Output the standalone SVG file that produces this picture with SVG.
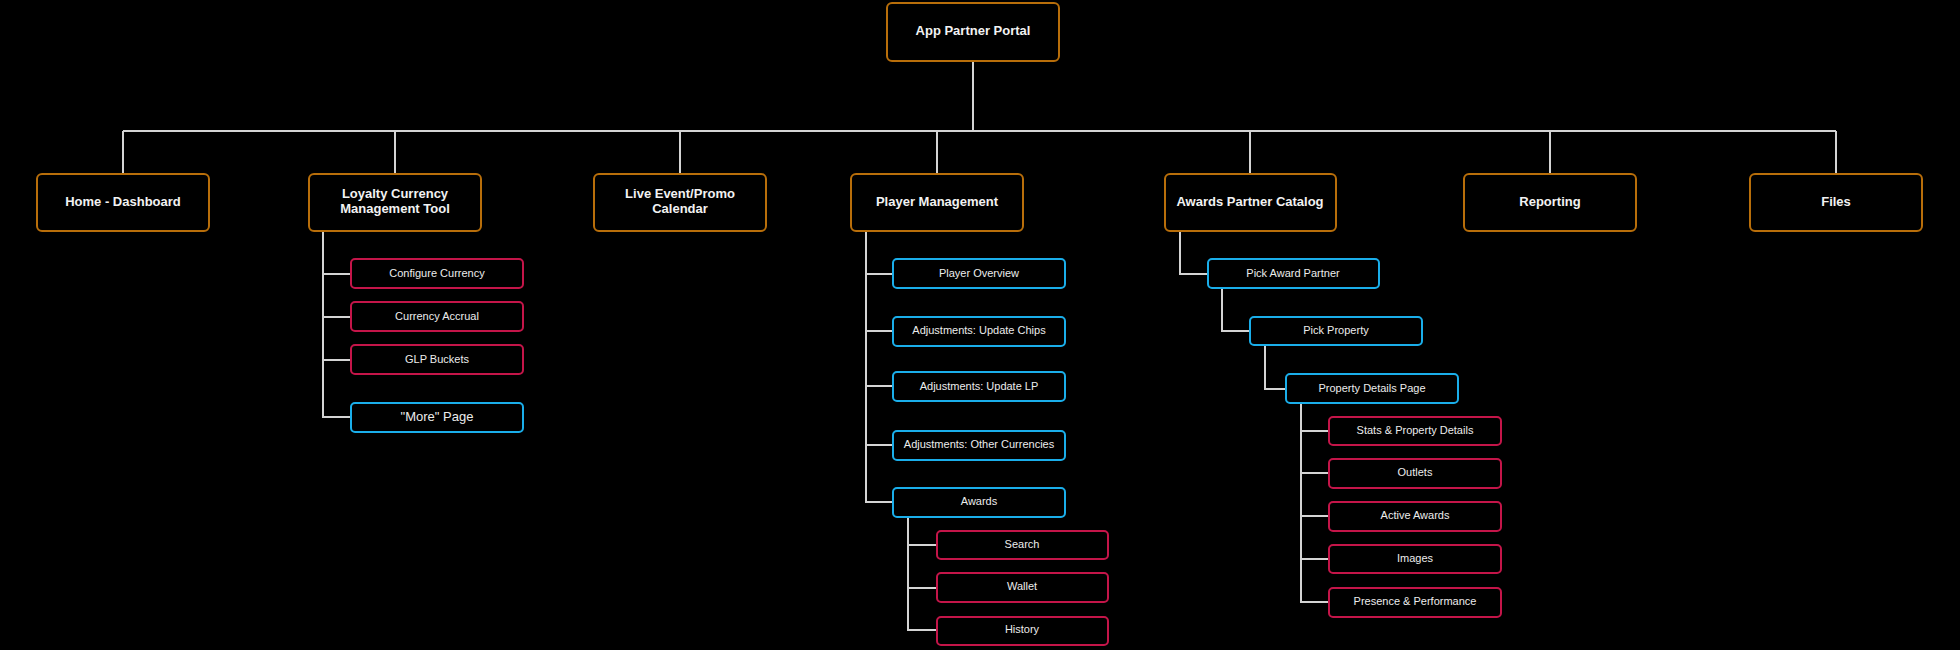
<svg xmlns="http://www.w3.org/2000/svg" width="1960" height="650" viewBox="0 0 1960 650">
<style>
.bg{fill:#000}
.o{fill:#000;stroke:#b86e0a;stroke-width:2}
.r{fill:#000;stroke:#c41549;stroke-width:2}
.b{fill:#000;stroke:#1aaeea;stroke-width:2}
.t1{font-family:"Liberation Sans",Arial,sans-serif;font-size:13px;font-weight:bold;fill:#f2f2f2;text-anchor:middle;dominant-baseline:central}
.t2{font-family:"Liberation Sans",Arial,sans-serif;font-size:11px;fill:#ececec;text-anchor:middle;dominant-baseline:central}
.t3{font-family:"Liberation Sans",Arial,sans-serif;font-size:13px;fill:#ececec;text-anchor:middle;dominant-baseline:central}
.c{fill:none;stroke:#d4d4d4;stroke-width:2}
</style>
<rect class="bg" x="0" y="0" width="1960" height="650"/>
<g id="connectors">
<path class="c" d="M973 61V131M123 131H1836M123 131V174M395 131V174M680 131V174M937 131V174M1250 131V174M1550 131V174M1836 131V174"/>
<path class="c" d="M323 231V417H351M323 274H351M323 317H351M323 360H351"/>
<path class="c" d="M866 231V502H893M866 274H893M866 331H893M866 386H893M866 445H893"/>
<path class="c" d="M908 517V630H937M908 545H937M908 588H937"/>
<path class="c" d="M1180 231V274H1208M1222 288V331H1250M1265 345V389H1286M1301 403V602H1329M1301 431H1329M1301 473H1329M1301 516H1329M1301 559H1329"/>
</g>
<g id="root"><rect class="o" x="887" y="3" width="172" height="58" rx="5"/><text class="t1" x="973" y="30">App Partner Portal</text></g>
<g id="home"><rect class="o" x="37" y="174" width="172" height="57" rx="5"/><text class="t1" x="123" y="201">Home - Dashboard</text></g>
<g id="loyalty"><rect class="o" x="309" y="174" width="172" height="57" rx="5"/><text class="t1" x="395" y="193.5">Loyalty Currency</text><text class="t1" x="395" y="208.5">Management Tool</text></g>
<g id="live"><rect class="o" x="594" y="174" width="172" height="57" rx="5"/><text class="t1" x="680" y="193.5">Live Event/Promo</text><text class="t1" x="680" y="208.5">Calendar</text></g>
<g id="player"><rect class="o" x="851" y="174" width="172" height="57" rx="5"/><text class="t1" x="937" y="201">Player Management</text></g>
<g id="apc"><rect class="o" x="1165" y="174" width="171" height="57" rx="5"/><text class="t1" x="1250" y="201">Awards Partner Catalog</text></g>
<g id="reporting"><rect class="o" x="1464" y="174" width="172" height="57" rx="5"/><text class="t1" x="1550" y="201">Reporting</text></g>
<g id="files"><rect class="o" x="1750" y="174" width="172" height="57" rx="5"/><text class="t1" x="1836" y="201">Files</text></g>
<g id="configure"><rect class="r" x="351" y="259" width="172" height="29" rx="4"/><text class="t2" x="437" y="272.5">Configure Currency</text></g>
<g id="accrual"><rect class="r" x="351" y="302" width="172" height="29" rx="4"/><text class="t2" x="437" y="315.5">Currency Accrual</text></g>
<g id="glp"><rect class="r" x="351" y="345" width="172" height="29" rx="4"/><text class="t2" x="437" y="358.5">GLP Buckets</text></g>
<g id="more"><rect class="b" x="351" y="403" width="172" height="29" rx="4"/><text class="t3" x="437" y="416">"More" Page</text></g>
<g id="overview"><rect class="b" x="893" y="259" width="172" height="29" rx="4"/><text class="t2" x="979" y="272.5">Player Overview</text></g>
<g id="chips"><rect class="b" x="893" y="317" width="172" height="29" rx="4"/><text class="t2" x="979" y="330">Adjustments: Update Chips</text></g>
<g id="lp"><rect class="b" x="893" y="372" width="172" height="29" rx="4"/><text class="t2" x="979" y="385.5">Adjustments: Update LP</text></g>
<g id="other"><rect class="b" x="893" y="431" width="172" height="29" rx="4"/><text class="t2" x="979" y="444">Adjustments: Other Currencies</text></g>
<g id="awards"><rect class="b" x="893" y="488" width="172" height="29" rx="4"/><text class="t2" x="979" y="501">Awards</text></g>
<g id="search"><rect class="r" x="937" y="531" width="171" height="28" rx="4"/><text class="t2" x="1022" y="543.5">Search</text></g>
<g id="wallet"><rect class="r" x="937" y="573" width="171" height="29" rx="4"/><text class="t2" x="1022" y="586">Wallet</text></g>
<g id="history"><rect class="r" x="937" y="617" width="171" height="28" rx="4"/><text class="t2" x="1022" y="629">History</text></g>
<g id="pickpartner"><rect class="b" x="1208" y="259" width="171" height="29" rx="4"/><text class="t2" x="1293" y="272.5">Pick Award Partner</text></g>
<g id="pickproperty"><rect class="b" x="1250" y="317" width="172" height="28" rx="4"/><text class="t2" x="1336" y="329.5">Pick Property</text></g>
<g id="details"><rect class="b" x="1286" y="374" width="172" height="29" rx="4"/><text class="t2" x="1372" y="387.5">Property Details Page</text></g>
<g id="stats"><rect class="r" x="1329" y="417" width="172" height="28" rx="4"/><text class="t2" x="1415" y="429.5">Stats &amp; Property Details</text></g>
<g id="outlets"><rect class="r" x="1329" y="459" width="172" height="29" rx="4"/><text class="t2" x="1415" y="472">Outlets</text></g>
<g id="active"><rect class="r" x="1329" y="502" width="172" height="29" rx="4"/><text class="t2" x="1415" y="515">Active Awards</text></g>
<g id="images"><rect class="r" x="1329" y="545" width="172" height="28" rx="4"/><text class="t2" x="1415" y="557.5">Images</text></g>
<g id="presence"><rect class="r" x="1329" y="588" width="172" height="29" rx="4"/><text class="t2" x="1415" y="600.5">Presence &amp; Performance</text></g>
</svg>
